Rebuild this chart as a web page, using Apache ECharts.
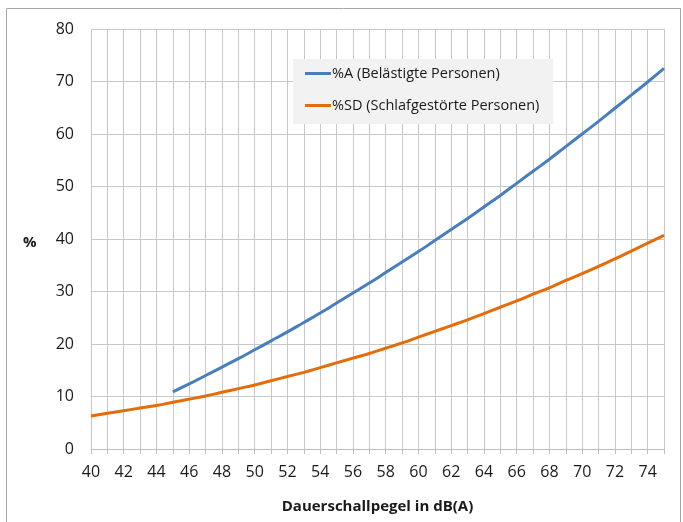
<!DOCTYPE html>
<html>
<head>
<meta charset="utf-8">
<script src="https://cdn.jsdelivr.net/npm/echarts@6/dist/echarts.min.js"></script>
<style>
  html, body { margin: 0; padding: 0; background: #fff; }
  #main { width: 683px; height: 522px; }
</style>
</head>
<body>
<div id="main"></div>
<script>
// Dauerschallpegel in dB(A), 40 .. 75
var categories = [];
for (var l = 40; l <= 75; l++) categories.push(String(l));

// %A (Belästigte Personen), read from 45 dB(A) on
var annoyedStart = 45;
var annoyed = [10.9, 12.4, 14.0, 15.6, 17.2, 18.9, 20.6, 22.3, 24.1, 25.9,
               27.8, 29.7, 31.6, 33.6, 35.6, 37.6, 39.7, 41.8, 43.9, 46.1,
               48.3, 50.6, 52.9, 55.2, 57.6, 60.0, 62.4, 64.9, 67.4, 69.9, 72.5];

// %SD (Schlafgestörte Personen), 40 .. 75 dB(A)
var sleepDisturbed = [6.3, 6.8, 7.3, 7.8, 8.3, 8.9, 9.5, 10.1, 10.8, 11.5,
                      12.2, 13.0, 13.8, 14.6, 15.5, 16.4, 17.3, 18.2, 19.2, 20.2,
                      21.3, 22.4, 23.5, 24.6, 25.8, 27.0, 28.2, 29.5, 30.7, 32.1,
                      33.4, 34.8, 36.2, 37.7, 39.2, 40.7];

var yTicks = [0, 10, 20, 30, 40, 50, 60, 70, 80];

var annoyedData = [];
for (var i = 0; i < categories.length; i++) {
  var k = i - (annoyedStart - 40);
  annoyedData.push(k >= 0 ? annoyed[k] : '-');
}

var myChart = echarts.init(document.getElementById('main'));
var font = '"Open Sans", "Noto Sans", sans-serif';
var option = {
  backgroundColor: '#ffffff',
  animation: false,
  textStyle: { fontFamily: font },
  graphic: [
    {
      type: 'rect',
      shape: { x: 6.5, y: 8.5, width: 674, height: 520 },
      style: { fill: 'none', stroke: '#a6a6a6', lineWidth: 1 },
      silent: true
    },
    {
      type: 'text',
      left: 23, top: 235,
      style: { text: '%', font: 'bold 15px ' + font, fill: '#1a1a1a' }
    }
  ],
  grid: { left: 91, right: 19, top: 29, bottom: 73, containLabel: false },
  legend: {
    orient: 'vertical',
    left: 293, top: 59,
    padding: [7, 14, 11, 12],
    backgroundColor: '#f2f2f2',
    itemWidth: 26, itemHeight: 3, itemGap: 17,
    icon: 'rect',
    textStyle: { fontSize: 14.5, color: '#1a1a1a', padding: [0, 0, 0, -4] },
    data: ['%A (Belästigte Personen)', '%SD (Schlafgestörte Personen)']
  },
  xAxis: {
    type: 'category',
    data: categories,
    boundaryGap: false,
    name: 'Dauerschallpegel in dB(A)',
    nameLocation: 'middle',
    nameGap: 50,
    nameTextStyle: { fontSize: 15, fontWeight: 'bold', color: '#1a1a1a' },
    axisLine: { lineStyle: { color: '#bfbfbf' } },
    axisTick: { show: true, interval: 0, length: 5, lineStyle: { color: '#bfbfbf' } },
    axisLabel: { interval: 1, fontSize: 16, color: '#1a1a1a', margin: 15 },
    splitLine: { show: true, interval: 0, lineStyle: { color: '#c8c8c8' } }
  },
  yAxis: {
    type: 'value',
    min: yTicks[0], max: yTicks[yTicks.length - 1], interval: 10,
    axisLine: { show: false },
    axisTick: { show: false },
    axisLabel: { fontSize: 16, color: '#1a1a1a', margin: 17 },
    splitLine: { lineStyle: { color: '#c8c8c8' } }
  },
  series: [
    {
      name: '%A (Belästigte Personen)',
      type: 'line',
      data: annoyedData,
      showSymbol: false,
      smooth: true,
      color: '#4a7ebb',
      lineStyle: { width: 3, color: '#4a7ebb' }
    },
    {
      name: '%SD (Schlafgestörte Personen)',
      type: 'line',
      data: sleepDisturbed,
      showSymbol: false,
      smooth: true,
      color: '#e46c0a',
      lineStyle: { width: 3, color: '#e46c0a' }
    }
  ]
};
myChart.setOption(option);
</script>
</body>
</html>
